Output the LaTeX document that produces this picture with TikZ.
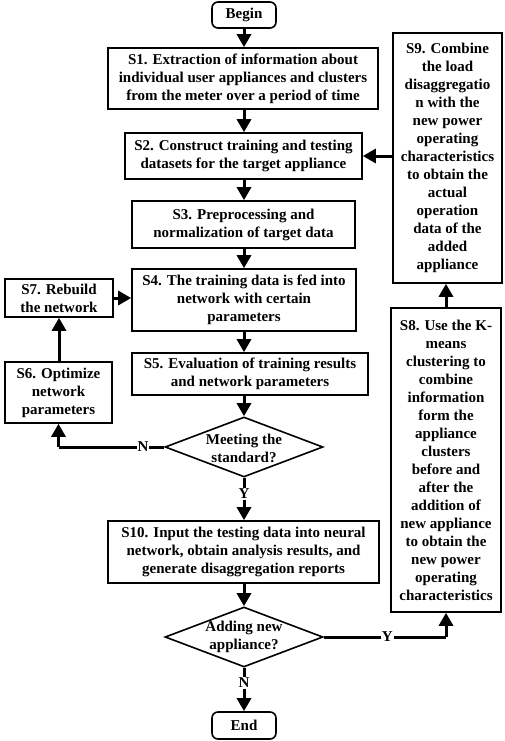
\documentclass[tikz,border=0pt]{standalone}
\usepackage{fontspec}
\setmainfont{Liberation Serif}
\usetikzlibrary{arrows.meta,shapes.geometric,calc}
\begin{document}
\begin{tikzpicture}[x=1pt,y=1pt,
 txt/.style={font=\fontsize{15}{18}\selectfont\bfseries, align=center},
 box/.style={txt, draw, line width=1.6pt, inner sep=0pt},
 term/.style={box, rounded corners=6pt},
 dia/.style={draw, diamond, line width=1.6pt, inner sep=0pt},
 arr/.style={line width=3pt, -{Triangle[length=13pt,width=14pt]}},
 seg/.style={line width=3pt},
 lbl/.style={txt, fill=white, inner sep=1pt}]
\useasboundingbox (0,0) rectangle (505,-741);
\fill[white] (0,0) rectangle (505,-741);

\node[term, minimum width=64, minimum height=26] (begin) at (244,-15) {Begin};
\node[box, minimum width=270, minimum height=61] (s1) at (243,-78.5)
  {S1. Extraction of information about\\individual user appliances and clusters\\from the meter over a period of time};
\node[box, minimum width=237, minimum height=46] (s2) at (243.5,-156)
  {S2. Construct training and testing\\datasets for the target appliance};
\node[box, minimum width=223, minimum height=47] (s3) at (243.5,-224.5)
  {S3. Preprocessing and\\normalization of target data};
\node[box, minimum width=224, minimum height=62] (s4) at (244,-300)
  {S4. The training data is fed into\\network with certain\\parameters};
\node[box, minimum width=236, minimum height=42] (s5) at (250,-374)
  {S5. Evaluation of training results\\and network parameters};
\node[dia, minimum width=158, minimum height=60] (d1) at (244,-447) {};
\node[txt, inner sep=0pt] (d1t) at (244,-448) {Meeting the\\standard?};
\node[box, minimum width=107, minimum height=61] (s6) at (58.5,-392.5)
  {S6. Optimize\\network\\parameters};
\node[box, minimum width=108, minimum height=38] (s7) at (59,-298)
  {S7. Rebuild\\the network};
\node[box, minimum width=271, minimum height=62] (s10) at (243.5,-552)
  {S10. Input the testing data into neural\\network, obtain analysis results, and\\generate disaggregation reports};
\node[dia, minimum width=158, minimum height=60] (d2) at (244,-637) {};
\node[txt, inner sep=0pt] (d2t) at (244,-637) {Adding new\\appliance?};
\node[term, minimum width=64, minimum height=27] (end) at (244,-725.5) {End};
\node[box, minimum width=109, minimum height=250] (s9) at (447.5,-158)
  {S9. Combine\\the load\\disaggregatio\\n with the\\new power\\operating\\characteristics\\to obtain the\\actual\\operation\\data of the\\added\\appliance};
\node[box, minimum width=110, minimum height=304] (s8) at (446,-460)
  {S8. Use the K-\\means\\clustering to\\combine\\information\\form the\\appliance\\clusters\\before and\\after the\\addition of\\new appliance\\to obtain the\\new power\\operating\\characteristics};

\draw[arr] (begin.south) -- (begin.south |- s1.north);
\draw[arr] (s1.south -| begin.south) -- (begin.south |- s2.north);
\draw[arr] (s2.south -| begin.south) -- (begin.south |- s3.north);
\draw[arr] (s3.south -| begin.south) -- (begin.south |- s4.north);
\draw[arr] (s4.south -| begin.south) -- (begin.south |- s5.north);
\draw[arr] (s5.south -| d1.north) -- (d1.north);
\draw[arr] (d1.south) -- (d1.south |- s10.north) node[lbl, pos=0.38] (y1) {Y};
\draw[seg] (d1.west) -- (s6.south |- d1.west) node[lbl, pos=0.2] (n1) {N};
\draw[arr] (s6.south |- d1.west) -- (s6.south);
\draw[arr] (s6.north -| s7.south) -- (s7.south);
\draw[arr] (s7.east) -- (s7.east -| s4.west);
\draw[arr] (s10.south -| d2.north) -- (d2.north);
\draw[arr] (d2.south) -- (d2.south |- end.north) node[lbl, pos=0.35] (n2) {N};
\draw[seg] (d2.east) -- (d2.east -| s8.south) node[lbl, pos=0.52] (y2) {Y};
\draw[arr] (d2.east -| s8.south) -- (s8.south);
\draw[arr] (s8.north) -- (s8.north |- s9.south);
\draw[arr] (s9.west |- s2.east) -- (s2.east);
\end{tikzpicture}
\end{document}
